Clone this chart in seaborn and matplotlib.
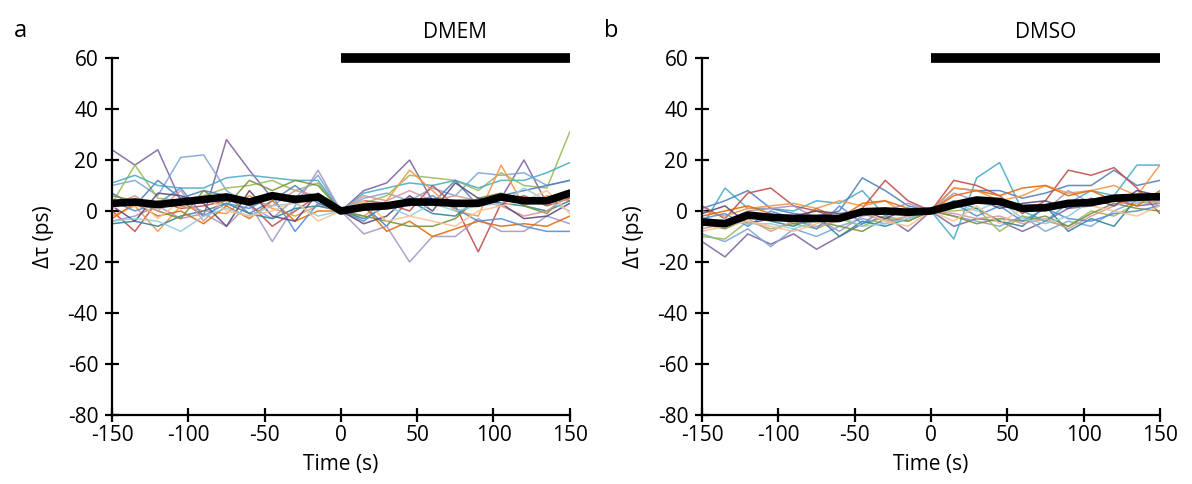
import matplotlib
matplotlib.use("Agg")
import matplotlib.pyplot as plt
import seaborn as sns
import numpy as np
import pandas as pd

# time axis (s), sampled every 15 s
time = list(range(-150, 151, 15))

# colour cycle of the single-cell traces
colors = ["#8064A2", "#7FA6D6", "#9BBB59", "#4BACC6", "#4F81BD", "#C0504D",
          "#F79646", "#A897C6", "#31859C", "#E46C0A", "#77933C", "#D99694",
          "#558ED5", "#5F497A", "#93CDDD", "#FAC090"]

# ---- panel a : DMEM, individual cells (ps) ----
dmem_traces = [
    [24, 18, 24, 4, -2, 28, 16, 5, 6, 4, 0, 8, 11, 20, 4, 3, 2, 5, 20, 3, 5],
    [10, 12, 6, 21, 22, 8, 2, -3, 5, 14, 0, 5, 7, 4, 9, 6, 15, 14, 15, 10, 12],
    [3, 18, 5, 4, 6, 9, 10, 12, 8, 11, 0, 3, 6, 14, 13, 12, 8, 15, 10, 9, 31],
    [11, 14, 10, 9, 9, 13, 14, 13, 12, 12, 0, 7, 9, 11, 10, 12, 9, 12, 12, 15, 19],
    [7, 2, 12, 5, 8, 6, -1, 4, 10, 3, 0, 2, -6, 5, 3, 12, 2, 6, 8, 10, 12],
    [0, -8, 4, 1, 2, 4, 3, -6, 0, 6, 0, 4, 3, 0, 10, 2, -16, 3, 6, 2, 5],
    [-2, 2, -8, 2, 0, -1, 6, 1, -2, 2, 0, -2, 4, 16, 8, 0, -2, 18, 2, 6, 4],
    [-4, -2, 2, -3, -1, -6, 3, -12, 2, 16, 0, -9, -6, -20, -10, -10, -3, -8, -8, -2, -5],
    [-5, -4, -6, -2, 0, 3, -1, -3, 1, 2, 0, -3, 2, 4, -1, -2, 5, 3, 2, 0, 4],
    [-3, 3, -2, 0, -5, 2, -3, 4, -4, 0, 0, 2, -8, -4, -10, -7, -4, -6, -5, -6, -2],
    [6, 4, 0, -3, 8, 2, 12, 8, 12, 10, 0, -2, -4, -6, -6, -3, 5, 7, 2, -1, 8],
    [2, 6, 0, 8, -4, 6, 4, 2, 8, 6, 0, 6, 4, 8, 4, 6, 4, 2, -2, 0, 6],
    [4, 0, 3, 9, -2, 3, 1, 6, -8, 3, 0, -4, 3, 2, 6, 1, -4, -3, -6, -8, -8],
    [2, -4, 7, 6, 3, -6, 8, -2, -4, 7, 0, -5, -2, 6, 0, 11, 5, 3, -3, -2, 3],
    [-4, -3, -4, -8, -2, 1, -2, 2, 3, -2, 0, 1, 2, -2, 3, 0, 2, 3, 9, 4, 0],
    [1, 5, -3, 4, 6, 0, -2, 0, 4, -4, 0, 4, -4, -2, -4, -6, 0, 2, 4, 8, -1],
]
dmem_mean = [3, 3.5, 2.5, 3.5, 4.5, 5.5, 3.5, 6, 4.5, 5.5, 0,
             1.5, 2, 3.5, 3.5, 3, 3, 5.5, 4, 4, 7]

# ---- panel b : DMSO, individual cells (ps) ----
dmso_traces = [
    [-12, -18, -9, -13, -9, -15, -10, -5, -2, -8, 0, -6, -3, -4, -8, -4, 1, 2, 5, 2, 3],
    [-9, -12, -7, -14, -7, -10, -6, -3, -5, -2, 0, -2, -4, -6, -2, -8, -4, -6, 0, 4, 2],
    [-10, -11, -4, -7, -5, -7, -3, -6, -2, -4, 0, 0, 1, -8, -2, -4, -6, 0, -2, 3, 4],
    [-6, 9, 1, 1, 0, 4, 3, 8, -2, 1, 0, -11, 13, 19, 0, -4, 3, 8, 6, 18, 18],
    [1, 4, 8, 1, -1, -2, 0, 13, 8, 2, 0, 9, 8, 8, 5, 7, 10, 10, 16, 10, 12],
    [2, -3, 7, 9, 2, 0, -3, 1, 12, 4, 0, 12, 10, 6, -1, 4, 16, 14, 17, 9, -1],
    [0, -2, 1, 2, 3, 1, 4, 2, 4, -2, 0, 9, 8, 4, 6, 10, 7, 8, 10, 6, 18],
    [-3, -4, 0, 1, 2, -3, -8, -2, 0, 3, 0, 7, 4, 3, 2, 0, 8, 3, 4, 6, 4],
    [-4, -6, -2, -4, -6, -2, -10, -4, -6, -3, 0, 4, 1, -4, -6, 2, -8, -3, -6, 5, 7],
    [-2, 0, 2, -1, -4, 1, -3, 3, 4, 1, 0, 6, 8, 6, 9, 10, 6, 8, 4, 2, 8],
    [-5, -7, -3, -2, -5, -4, -6, -8, -3, -4, 0, -2, -5, -3, -4, -2, -6, -1, 3, 1, 0],
    [-7, -5, -3, -8, -4, -6, -4, -1, -4, -2, 0, -1, -3, -2, -5, -3, -7, -2, 2, 5, 3],
    [-3, -1, -6, 0, -3, -7, 2, -5, 1, -1, 0, 3, -2, 2, -4, 1, -3, -4, -1, 0, 2],
    [-1, 2, -5, -3, -2, 0, -1, 0, -3, 1, 0, 2, 5, 1, 3, 4, 1, 5, 2, 8, 6],
    [-6, -3, -5, -5, -7, -4, -2, -6, -5, -3, 0, 3, 0, 4, -3, -5, -2, 4, 6, 3, 7],
    [-8, -6, -4, -6, -8, -5, -2, 0, -4, -6, 0, -4, 2, -5, 1, 0, 4, 2, 0, -2, 2],
]
dmso_mean = [-4.3, -5, -1.6, -2.5, -2.9, -2.9, -2.9, -0.3, 0, -0.5, 0,
             2.4, 4.3, 3.7, 1, 1.3, 3, 3.3, 5, 5.4, 5.6]

panels = [("a", "DMEM", dmem_traces, dmem_mean),
          ("b", "DMSO", dmso_traces, dmso_mean)]

sns.set_style("ticks", {"axes.edgecolor": "black", "text.color": "black",
                        "xtick.color": "black", "ytick.color": "black",
                        "axes.labelcolor": "black"})
plt.rcParams["font.family"] = ["Open Sans", "DejaVu Sans"]
plt.rcParams["axes.unicode_minus"] = False

fig = plt.figure(figsize=(11.92, 4.84), dpi=100)
lefts = [0.094, 0.589]

for (letter, label, traces, mean), left in zip(panels, lefts):
    ax = fig.add_axes([left, 0.1426, 0.384, 0.7376])
    rows = []
    for i, tr in enumerate(traces):
        for t, v in zip(time, tr):
            rows.append({"time": t, "dtau": v, "cell": i})
    df = pd.DataFrame(rows)
    sns.lineplot(data=df, x="time", y="dtau", hue="cell", palette=colors,
                 estimator=None, linewidth=1.1, alpha=0.9, legend=False, ax=ax)
    sns.lineplot(x=time, y=mean, color="black", linewidth=5.5,
                 estimator=None, ax=ax)

    ax.set_xlim(-150, 150)
    ax.set_ylim(-80, 60)
    ax.set_xticks(range(-150, 151, 50))
    ax.set_yticks(range(-80, 61, 20))
    sns.despine(ax=ax)
    for s in ["left", "bottom"]:
        ax.spines[s].set_linewidth(1.6)
    ax.tick_params(direction="inout", length=10, width=1.6, labelsize=15)
    ax.tick_params(axis="y", pad=5)
    ax.tick_params(axis="x", pad=2)
    ax.set_xlabel("Time (s)", fontsize=15, labelpad=6)
    ax.set_ylabel("Δτ (ps)", fontsize=15, labelpad=10)

    # treatment bar
    ax.plot([0, 150], [60, 60], color="black", linewidth=7,
            solid_capstyle="butt", clip_on=False)
    ax.text(75, 66, label, ha="center", va="bottom", fontsize=15)
    fig.text(left - 0.082, 0.96, letter, fontsize=17, va="top")

fig.savefig("out.png", dpi=100)
